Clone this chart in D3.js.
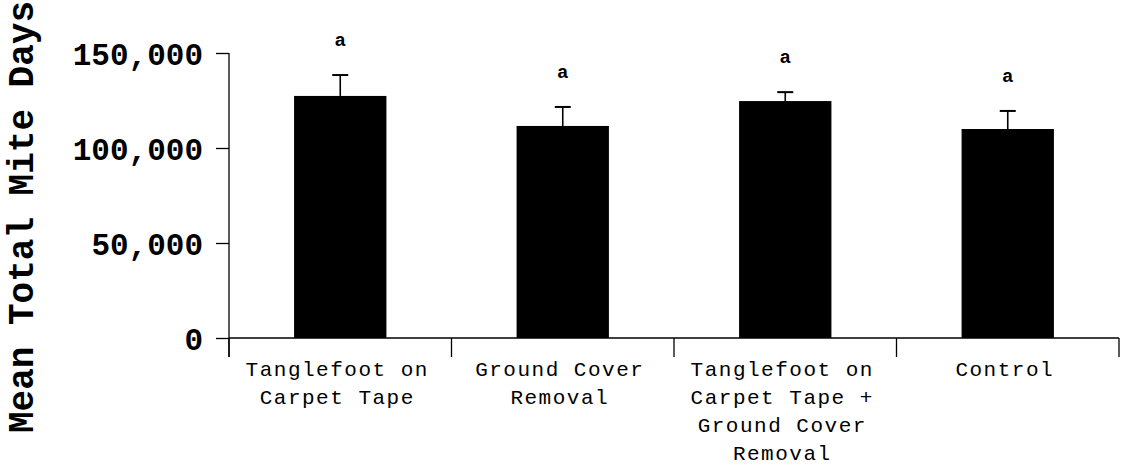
<!DOCTYPE html>
<html>
<head>
<meta charset="utf-8">
<script src="https://cdn.jsdelivr.net/npm/d3@7"></script>
<style>
  body { margin: 0; background: #fff; }
</style>
</head>
<body>
<script>
// treatments, means and standard errors
let treatments = ["Tanglefoot on Carpet Tape", "Ground Cover Removal",
  "Tanglefoot on Carpet Tape + Ground Cover Removal", "Control"];
let labelLines = [
  ["Tanglefoot on", "Carpet Tape"],
  ["Ground Cover", "Removal"],
  ["Tanglefoot on", "Carpet Tape +", "Ground Cover", "Removal"],
  ["Control"]
];
let means = [127400, 111600, 124700, 110000];
let errors = [11000, 10000, 4700, 9500];
let letters = ["a", "a", "a", "a"];
let yTicks = [0, 50000, 100000, 150000];

let canvasW = 1125;
let canvasH = 467;
let plotL = 229, plotR = 1119, plotT = 53, plotB = 338;

let rows = treatments.map((t, i) => ({ t: t, lines: labelLines[i], mean: means[i], se: errors[i], letter: letters[i] }));

let svg = d3.select("body").append("svg")
  .attr("width", canvasW)
  .attr("height", canvasH);

let x = d3.scaleBand()
  .domain(treatments)
  .range([plotL, plotR])
  .paddingInner(0.585)
  .paddingOuter(0.585 / 2);

let y = d3.scaleLinear()
  .domain([0, 150000])
  .range([plotB, plotT]);

// bars
svg.selectAll(".bar")
  .data(rows)
  .enter()
  .append("rect")
    .attr("class", "bar")
    .attr("x", d => x(d.t))
    .attr("y", d => y(d.mean))
    .attr("width", x.bandwidth())
    .attr("height", d => y(0) - y(d.mean))
    .attr("fill", "#000");

// error bars (upper only)
svg.selectAll(".err")
  .data(rows)
  .enter()
  .append("line")
    .attr("x1", d => x(d.t) + x.bandwidth() / 2)
    .attr("x2", d => x(d.t) + x.bandwidth() / 2)
    .attr("y1", d => y(d.mean))
    .attr("y2", d => y(d.mean + d.se))
    .attr("stroke", "#000")
    .attr("stroke-width", 1.6);

svg.selectAll(".cap")
  .data(rows)
  .enter()
  .append("line")
    .attr("x1", d => x(d.t) + x.bandwidth() / 2 - 8)
    .attr("x2", d => x(d.t) + x.bandwidth() / 2 + 8)
    .attr("y1", d => y(d.mean + d.se))
    .attr("y2", d => y(d.mean + d.se))
    .attr("stroke", "#000")
    .attr("stroke-width", 2);

// significance letters
svg.selectAll(".letter")
  .data(rows)
  .enter()
  .append("text")
    .attr("x", d => x(d.t) + x.bandwidth() / 2)
    .attr("y", d => y(d.mean + d.se) - 29)
    .attr("text-anchor", "middle")
    .attr("font-family", "'Courier New', 'Liberation Mono', monospace")
    .attr("font-weight", "bold")
    .attr("font-size", "19px")
    .text(d => d.letter);

// y axis
let yAxis = svg.append("g")
  .attr("transform", "translate(" + plotL + ",0)")
  .call(d3.axisLeft(y).tickValues(yTicks).tickFormat(d3.format(",")).tickSize(13).tickPadding(13));

yAxis.select(".domain").remove();
yAxis.selectAll(".tick line").attr("stroke-width", 1.3);
yAxis.selectAll("text")
  .attr("font-family", "'Courier New', 'Liberation Mono', monospace")
  .attr("font-weight", "bold")
  .attr("font-size", "31px")
  .attr("dy", "0.36em")
  .attr("fill", "#000");

svg.append("line")
  .attr("x1", plotL).attr("x2", plotL)
  .attr("y1", plotT).attr("y2", plotB + 19)
  .attr("stroke", "#000")
  .attr("stroke-width", 1.3);

// x axis
svg.append("line")
  .attr("x1", plotL).attr("x2", plotR)
  .attr("y1", plotB).attr("y2", plotB)
  .attr("stroke", "#000")
  .attr("stroke-width", 1.3);

let edges = treatments.map(t => x(t) - x.step() * x.paddingInner() / 2).concat([plotR]);
svg.selectAll(".xtick")
  .data(edges)
  .enter()
  .append("line")
    .attr("x1", d => d).attr("x2", d => d)
    .attr("y1", plotB).attr("y2", plotB + 19)
    .attr("stroke", "#000")
    .attr("stroke-width", 1.3);

let xLabels = svg.selectAll(".xlabel")
  .data(rows)
  .enter()
  .append("text")
    .attr("text-anchor", "middle")
    .attr("font-family", "'Courier New', 'Liberation Mono', monospace")
    .attr("font-size", "21px")
    .attr("letter-spacing", "1.5px")
    .attr("fill", "#000");

xLabels.selectAll("tspan")
  .data(d => d.lines.map(l => ({ l: l, cx: x(d.t) + x.bandwidth() / 2 - 3 })))
  .enter()
  .append("tspan")
    .attr("x", d => d.cx)
    .attr("y", (d, i) => 376 + i * 28)
    .text(d => d.l);

// y axis title
svg.append("text")
  .attr("transform", "translate(33," + 217 + ") rotate(-90)")
  .attr("text-anchor", "middle")
  .attr("font-family", "'Courier New', 'Liberation Mono', monospace")
  .attr("font-weight", "bold")
  .attr("font-size", "36px")
  .attr("fill", "#000")
  .text("Mean Total Mite Days");
</script>
</body>
</html>
